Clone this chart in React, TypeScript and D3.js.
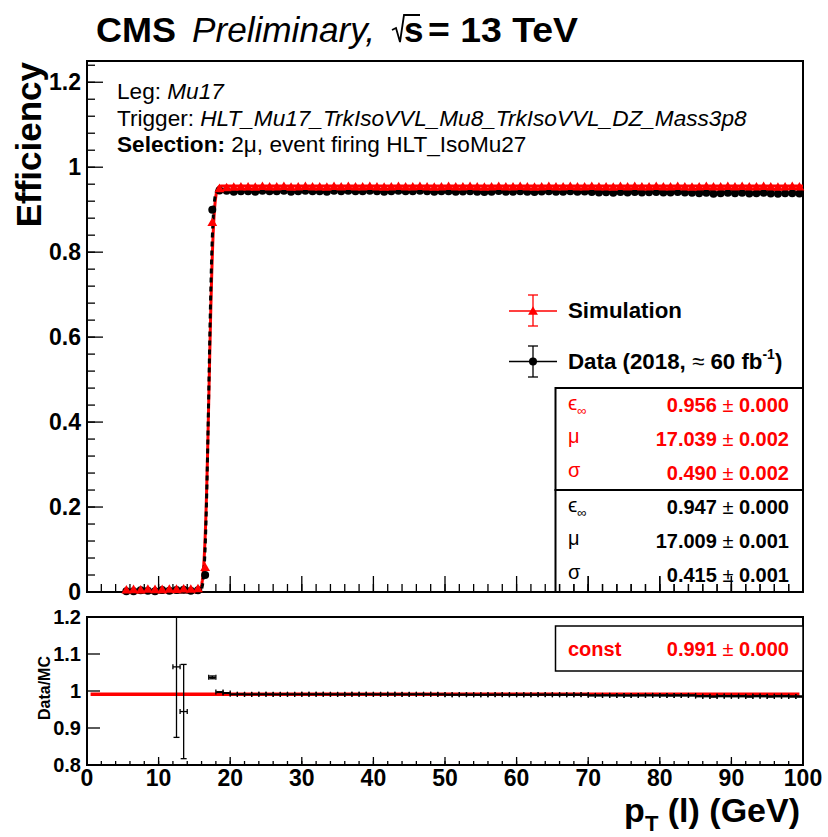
import React from "react";
import * as d3 from "d3";

// ---------- DATA ----------
const binCenters: number[] = d3.range(5.5, 100, 1);

const simEff: number[] = [
  0.003, 0.004, 0.003, 0.005, 0.004, 0.004, 0.005, 0.0046, 0.0054, 0.005, 0.006,
  0.056, 0.868, 0.948, 0.95,
  0.951, 0.952, 0.952, 0.951, 0.953, 0.952, 0.952, 0.953, 0.951, 0.952,
  0.953, 0.952, 0.952, 0.951, 0.953, 0.952, 0.953, 0.952, 0.952, 0.953,
  0.952, 0.951, 0.952, 0.953, 0.952, 0.952, 0.953, 0.952, 0.951, 0.952,
  0.953, 0.952, 0.952, 0.953, 0.952, 0.951, 0.952, 0.953, 0.952, 0.952,
  0.953, 0.952, 0.951, 0.952, 0.953, 0.952, 0.952, 0.953, 0.952, 0.952,
  0.953, 0.952, 0.952, 0.951, 0.953, 0.952, 0.953, 0.952, 0.952, 0.953,
  0.952, 0.952, 0.953, 0.952, 0.951, 0.952, 0.953, 0.952, 0.952, 0.953,
  0.952, 0.953, 0.952, 0.952, 0.953, 0.952, 0.951, 0.952, 0.953, 0.952,
];

const dataEff: number[] = [
  0.002, 0.002, 0.004, 0.003, 0.002, 0.005, 0.003, 0.0049, 0.0051, 0.003, 0.004,
  0.04, 0.9, 0.9452, 0.9448,
  0.9424, 0.9436, 0.9432, 0.9424, 0.9444, 0.9434, 0.9432, 0.9446, 0.9424, 0.9434,
  0.9444, 0.9434, 0.9436, 0.9424, 0.9444, 0.9432, 0.9444, 0.9434, 0.9436, 0.9444,
  0.9434, 0.9424, 0.9434, 0.9444, 0.9432, 0.9434, 0.9446, 0.9434, 0.9424, 0.9432,
  0.9435, 0.9425, 0.9427, 0.9435, 0.9423, 0.9415, 0.9425, 0.9437, 0.9425, 0.9423,
  0.9435, 0.9425, 0.9415, 0.9427, 0.9435, 0.9423, 0.9425, 0.9433, 0.9425, 0.9427,
  0.9416, 0.9406, 0.9408, 0.9396, 0.9416, 0.9404, 0.9416, 0.9406, 0.9408, 0.9416,
  0.9406, 0.9404, 0.9416, 0.9406, 0.9396, 0.9387, 0.9397, 0.9377, 0.9389, 0.9397,
  0.9387, 0.9397, 0.9378, 0.9389, 0.9397, 0.9378, 0.9377, 0.9387, 0.9389, 0.9378,
];

const simErr: number[] = [
  0.0005, 0.0005, 0.0005, 0.0005, 0.0005, 0.0005, 0.0005, 0.0006, 0.0005, 0.0005, 0.0005,
  0.002, 0.002, 0.0005, 0.0005,
  0.0004, 0.0004, 0.0004, 0.0004, 0.0004, 0.0004, 0.0004, 0.0004, 0.0004, 0.0004,
  0.0004, 0.0004, 0.0004, 0.0004, 0.0005, 0.0005, 0.0005, 0.0005, 0.0005, 0.0005,
  0.0005, 0.0005, 0.0005, 0.0005, 0.0005, 0.0005, 0.0005, 0.0005, 0.0005, 0.0005,
  0.0006, 0.0006, 0.0006, 0.0006, 0.0006, 0.0006, 0.0006, 0.0006, 0.0006, 0.0006,
  0.0006, 0.0006, 0.0006, 0.0006, 0.0006, 0.0007, 0.0007, 0.0007, 0.0007, 0.0007,
  0.0007, 0.0007, 0.0007, 0.0007, 0.0007, 0.0007, 0.0007, 0.0007, 0.0007, 0.0007,
  0.0008, 0.0008, 0.0008, 0.0008, 0.0008, 0.0008, 0.0008, 0.0008, 0.0008, 0.0008,
  0.0008, 0.0008, 0.0008, 0.0008, 0.0008, 0.0008, 0.0008, 0.0008, 0.0008, 0.0008,
];

const dataErr: number[] = [
  0.0005, 0.0005, 0.0005, 0.0005, 0.0005, 0.0005, 0.0005, 0.0006, 0.0005, 0.0005, 0.0005,
  0.002, 0.0025, 0.0008, 0.0008,
  0.0006, 0.0006, 0.0006, 0.0006, 0.0006, 0.0006, 0.0006, 0.0006, 0.0006, 0.0006,
  0.0007, 0.0007, 0.0007, 0.0007, 0.0007, 0.0007, 0.0007, 0.0007, 0.0007, 0.0007,
  0.0008, 0.0008, 0.0008, 0.0008, 0.0008, 0.0008, 0.0008, 0.0008, 0.0008, 0.0008,
  0.0009, 0.0009, 0.0009, 0.0009, 0.0009, 0.0009, 0.0009, 0.0009, 0.0009, 0.0009,
  0.001, 0.001, 0.001, 0.001, 0.001, 0.001, 0.001, 0.001, 0.001, 0.001,
  0.0011, 0.0011, 0.0011, 0.0011, 0.0011, 0.0011, 0.0011, 0.0011, 0.0011, 0.0011,
  0.0012, 0.0012, 0.0012, 0.0012, 0.0012, 0.0012, 0.0012, 0.0012, 0.0012, 0.0012,
  0.0013, 0.0013, 0.0013, 0.0013, 0.0013, 0.0013, 0.0013, 0.0013, 0.0013, 0.0013,
];

// fit parameters (epsilon_inf, mu, sigma)
const simFitVals = [0.956, 17.039, 0.49];
const simFitErrs = [0.0, 0.002, 0.002];
const dataFitVals = [0.947, 17.009, 0.415];
const dataFitErrs = [0.0, 0.001, 0.001];
const ratioConst = 0.991;
const ratioConstErr = 0.0;
const fitRange = [5, 100];

const xTicks = [0, 10, 20, 30, 40, 50, 60, 70, 80, 90, 100];
const effTicks = [0, 0.2, 0.4, 0.6, 0.8, 1, 1.2];
const ratioTicks = [0.8, 0.9, 1, 1.1, 1.2];

// ---------- HELPERS ----------
function erf(x: number): number {
  const s = x < 0 ? -1 : 1;
  const ax = Math.abs(x);
  const t = 1 / (1 + 0.3275911 * ax);
  const y =
    1 -
    ((((1.061405429 * t - 1.453152027) * t + 1.421413741) * t - 0.284496736) * t + 0.254829592) *
      t *
      Math.exp(-ax * ax);
  return s * y;
}
const turnOn = (x: number, p: number[]) => 0.5 * p[0] * (1 + erf((x - p[1]) / (Math.SQRT2 * p[2])));

const FONT = "'Liberation Sans', Arial, Helvetica, sans-serif";
const RED = "#ff0000";

export default function App() {
  const L = 87, R = 803;
  const mTop = 61, mBot = 592;
  const rTop = 617, rBot = 765;

  const x = d3.scaleLinear().domain([0, 100]).range([L, R]);
  const yM = d3.scaleLinear().domain([0, 1.25]).range([mBot, mTop]);
  const yR = d3.scaleLinear().domain([0.8, 1.2]).range([rBot, rTop]);

  const samples = d3.range(fitRange[0], fitRange[1] + 0.001, 0.05);
  const simCurve = d3
    .line<number>()
    .x((d) => x(d))
    .y((d) => yM(turnOn(d, simFitVals)))(samples) as string;
  const dataCurve = d3
    .line<number>()
    .x((d) => x(d))
    .y((d) => yM(turnOn(d, dataFitVals)))(samples) as string;

  const tri = d3.symbol().type(d3.symbolTriangle).size(42)() as string;

  const ratioPts = binCenters
    .map((bx, i) => {
      const d = dataEff[i], s = simEff[i];
      const r = d / s;
      const e = r * Math.sqrt((dataErr[i] / d) ** 2 + (simErr[i] / s) ** 2);
      return { x: bx, r, e };
    })
    .filter((p) => p.r >= 0.8 && p.r <= 1.2);

  const minorX = d3.range(0, 101, 2);
  const minorEff = d3.range(0, 1.2401, 0.04);

  const fmt = (v: number) => v.toFixed(3);
  const fitRows = (vals: number[], errs: number[], color: string, baseY: number) =>
    vals.map((v, i) => {
      const y = baseY + i * 34;
      return (
        <g key={color + i} fill={color}>
          {i === 0 ? (
            <text x={568} y={y - 2} fontSize={21}>
              ϵ<tspan fontSize={13} dy={5}>∞</tspan>
            </text>
          ) : (
            <text x={568} y={y - 3} fontSize={20}>
              {i === 1 ? "μ" : "σ"}
            </text>
          )}
          <text x={789} y={y} fontSize={20} textAnchor="end">
            <tspan fontWeight="bold">{fmt(v)}</tspan>
            <tspan> ± </tspan>
            <tspan fontWeight="bold">{fmt(errs[i])}</tspan>
          </text>
        </g>
      );
    });

  return (
    <svg
      width={828}
      height={837}
      style={{ position: "absolute", left: 0, top: 0, background: "#fff" }}
      fontFamily={FONT}
    >
      <rect x={0} y={0} width={828} height={837} fill="#fff" />
      <defs>
        <clipPath id="ratioClip">
          <rect x={L} y={rTop} width={R - L} height={rBot - rTop} />
        </clipPath>
      </defs>

      {/* Title */}
      <text x={96} y={42} fontSize={35} fontWeight="bold" textLength={80} lengthAdjust="spacingAndGlyphs">
        CMS
      </text>
      <text x={192} y={42} fontSize={35} fontStyle="italic" textLength={183} lengthAdjust="spacingAndGlyphs">
        Preliminary,
      </text>
      <path d="M392,30 L396,28 L400,42 L404,15 L420,15" fill="none" stroke="#000" strokeWidth={1.8} />
      <text x={404} y={42} fontSize={35} fontWeight="bold">
        s
      </text>
      <text x={428} y={42} fontSize={35} fontWeight="bold" textLength={150} lengthAdjust="spacingAndGlyphs">
        = 13 TeV
      </text>

      {/* Main frame */}
      <rect x={L} y={mTop} width={R - L} height={mBot - mTop} fill="none" stroke="#000" strokeWidth={2} />

      {/* main y ticks */}
      {minorEff.map((v) => (
        <line key={"mey" + v} x1={L} x2={L + 8} y1={yM(v)} y2={yM(v)} stroke="#000" strokeWidth={1.3} />
      ))}
      {effTicks.map((v) => (
        <g key={"ey" + v}>
          <line x1={L} x2={L + 16} y1={yM(v)} y2={yM(v)} stroke="#000" strokeWidth={1.3} />
          <text x={81} y={yM(v) + 8} fontSize={23} fontWeight="bold" textAnchor="end">
            {String(v)}
          </text>
        </g>
      ))}
      {/* main x ticks */}
      {minorX.map((v) => (
        <line key={"mx" + v} x1={x(v)} x2={x(v)} y1={mBot} y2={mBot - 8} stroke="#000" strokeWidth={1.3} />
      ))}
      {xTicks.map((v) => (
        <line key={"Mx" + v} x1={x(v)} x2={x(v)} y1={mBot} y2={mBot - 16} stroke="#000" strokeWidth={1.3} />
      ))}

      {/* Fits */}
      <path d={simCurve} fill="none" stroke={RED} strokeWidth={3} />
      <path d={dataCurve} fill="none" stroke="#000" strokeWidth={3} strokeDasharray="5,4" />

      {/* Data markers */}
      {binCenters.map((bx, i) => (
        <circle key={"d" + i} cx={x(bx)} cy={yM(dataEff[i])} r={4} fill="#000" />
      ))}
      {/* Simulation markers */}
      {binCenters.map((bx, i) => (
        <path key={"s" + i} d={tri} transform={`translate(${x(bx)},${yM(simEff[i])})`} fill={RED} />
      ))}

      {/* info text */}
      <text x={117} y={99} fontSize={22.6}>
        Leg: <tspan fontStyle="italic">Mu17</tspan>
      </text>
      <text x={117} y={126} fontSize={22.6}>
        Trigger: <tspan fontStyle="italic">HLT_Mu17_TrkIsoVVL_Mu8_TrkIsoVVL_DZ_Mass3p8</tspan>
      </text>
      <text x={117} y={152} fontSize={22.6}>
        <tspan fontWeight="bold">Selection:</tspan> 2μ, event firing HLT_IsoMu27
      </text>

      {/* Legend */}
      <g stroke={RED} strokeWidth={1.3}>
        <line x1={509} x2={557} y1={311} y2={311} />
        <line x1={533} x2={533} y1={295} y2={326} />
        <line x1={528} x2={538} y1={295} y2={295} />
        <line x1={528} x2={538} y1={326} y2={326} />
      </g>
      <path d={tri} transform="translate(533,312)" fill={RED} />
      <text x={568} y={318} fontSize={22.3} fontWeight="bold">
        Simulation
      </text>
      <g stroke="#000" strokeWidth={1.3}>
        <line x1={509} x2={557} y1={361.5} y2={361.5} />
        <line x1={533} x2={533} y1={346} y2={377} />
        <line x1={528} x2={538} y1={346} y2={346} />
        <line x1={528} x2={538} y1={377} y2={377} />
      </g>
      <circle cx={533} cy={361.5} r={4} fill="#000" />
      <text x={568} y={369} fontSize={22.3} fontWeight="bold">
        Data (2018, <tspan fontWeight="normal">≈</tspan> 60 fb
        <tspan fontSize={14} dy={-10}>-1</tspan>
        <tspan dy={10}>)</tspan>
      </text>

      {/* Fit result boxes */}
      <rect x={555.5} y={388} width={R - 555.5} height={102} fill="#fff" stroke="#000" strokeWidth={2} />
      <rect x={555.5} y={490} width={R - 555.5} height={102} fill="none" stroke="#000" strokeWidth={2} />
      {fitRows(simFitVals, simFitErrs, RED, 412)}
      {fitRows(dataFitVals, dataFitErrs, "#000", 514)}
      {minorX
        .filter((v) => x(v) > 556)
        .map((v) => (
          <line key={"mx2" + v} x1={x(v)} x2={x(v)} y1={mBot} y2={mBot - 8} stroke="#000" strokeWidth={1.3} />
        ))}
      {xTicks
        .filter((v) => x(v) > 556)
        .map((v) => (
          <line key={"Mx2" + v} x1={x(v)} x2={x(v)} y1={mBot} y2={mBot - 16} stroke="#000" strokeWidth={1.3} />
        ))}

      {/* Ratio frame */}
      <rect x={L} y={rTop} width={R - L} height={rBot - rTop} fill="none" stroke="#000" strokeWidth={2} />
      {ratioTicks.map((v) => (
        <g key={"ry" + v}>
          <line x1={L} x2={L + 13} y1={yR(v)} y2={yR(v)} stroke="#000" strokeWidth={1.3} />
          <text x={81} y={yR(v) + 7} fontSize={20} fontWeight="bold" textAnchor="end">
            {String(v)}
          </text>
        </g>
      ))}
      {minorX.map((v) => (
        <line key={"rmx" + v} x1={x(v)} x2={x(v)} y1={rBot} y2={rBot - 4} stroke="#000" strokeWidth={1.3} />
      ))}
      {xTicks.map((v) => (
        <g key={"rx" + v}>
          <line x1={x(v)} x2={x(v)} y1={rBot} y2={rBot - 8} stroke="#000" strokeWidth={1.3} />
          <text x={x(v)} y={786} fontSize={23} fontWeight="bold" textAnchor="middle">
            {String(v)}
          </text>
        </g>
      ))}

      {/* ratio const fit */}
      <line x1={x(0.5)} x2={x(99.5)} y1={yR(ratioConst)} y2={yR(ratioConst)} stroke={RED} strokeWidth={3.5} />

      {/* ratio points */}
      <g clipPath="url(#ratioClip)" stroke="#000" strokeWidth={1.3}>
        {ratioPts.map((p, i) => {
          const cy = yR(p.r);
          const yt = yR(p.r + p.e);
          const yb = yR(p.r - p.e);
          return (
            <g key={"rp" + i}>
              <line x1={x(p.x - 0.5)} x2={x(p.x + 0.5)} y1={cy} y2={cy} />
              <line x1={x(p.x - 0.5)} x2={x(p.x - 0.5)} y1={cy - 2.5} y2={cy + 2.5} />
              <line x1={x(p.x + 0.5)} x2={x(p.x + 0.5)} y1={cy - 2.5} y2={cy + 2.5} />
              <line x1={x(p.x)} x2={x(p.x)} y1={yt} y2={yb} />
              <line x1={x(p.x) - 3} x2={x(p.x) + 3} y1={yt} y2={yt} />
              <line x1={x(p.x) - 3} x2={x(p.x) + 3} y1={yb} y2={yb} />
            </g>
          );
        })}
      </g>

      {/* ratio const box */}
      <rect x={555.5} y={626} width={R - 555.5} height={45} fill="#fff" stroke="#000" strokeWidth={1.5} />
      <text x={568} y={656} fontSize={20} fontWeight="bold" fill={RED}>
        const
      </text>
      <text x={789} y={656} fontSize={20} fill={RED} textAnchor="end">
        <tspan fontWeight="bold">{fmt(ratioConst)}</tspan>
        <tspan> ± </tspan>
        <tspan fontWeight="bold">{fmt(ratioConstErr)}</tspan>
      </text>

      {/* Axis titles */}
      <text transform="translate(41,62) rotate(-90)" fontSize={35} fontWeight="bold" textAnchor="end">
        Efficiency
      </text>
      <text transform="translate(50,688) rotate(-90)" fontSize={16} fontWeight="bold" textAnchor="middle">
        Data/MC
      </text>
      <text x={800} y={822} fontSize={34} fontWeight="bold" textAnchor="end">
        p<tspan fontSize={22} dy={9}>T</tspan>
        <tspan dy={-9}> (l) (GeV)</tspan>
      </text>
    </svg>
  );
}
